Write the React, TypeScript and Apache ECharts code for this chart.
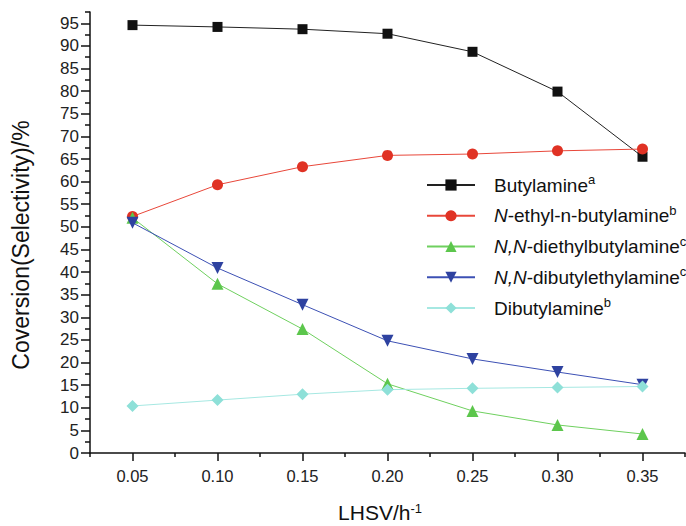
import React, { useEffect, useRef } from "react";
import * as echarts from "echarts";

const lhsv = [0.05, 0.1, 0.15, 0.2, 0.25, 0.3, 0.35];
const butylamine = [94.6, 94.2, 93.7, 92.7, 88.7, 79.9, 65.5];
const ethylButylamine = [52.3, 59.3, 63.3, 65.8, 66.1, 66.8, 67.2];
const diethylButylamine = [52.0, 37.4, 27.4, 15.3, 9.3, 6.2, 4.2];
const dibutylEthylamine = [50.9, 40.9, 32.8, 24.8, 20.8, 17.9, 15.1];
const dibutylamine = [10.4, 11.7, 13.0, 14.0, 14.3, 14.5, 14.7];

const xMajorTicks = [0.05, 0.1, 0.15, 0.2, 0.25, 0.3, 0.35];
const xMinorTicks = [0.025, 0.075, 0.125, 0.175, 0.225, 0.275, 0.325, 0.375];
const yMajorTicks = [0, 5, 10, 15, 20, 25, 30, 35, 40, 45, 50, 55, 60, 65, 70, 75, 80, 85, 90, 95];
const yMinorTicks = [2.5, 7.5, 12.5, 17.5, 22.5, 27.5, 32.5, 37.5, 42.5, 47.5, 52.5, 57.5, 62.5, 67.5, 72.5, 77.5, 82.5, 87.5, 92.5, 97.5];

const seriesNames = [
  "Butylamine",
  "N-ethyl-n-butylamine",
  "N,N-diethylbutylamine",
  "N,N-dibutylethylamine",
  "Dibutylamine",
];
const legendLabels: Record<string, string> = {
  "Butylamine": "{g| }Butylamine{sup|a}",
  "N-ethyl-n-butylamine": "{g| }{it|N}-ethyl-n-butylamine{sup|b}",
  "N,N-diethylbutylamine": "{g| }{it|N,N}-diethylbutylamine{sup|c}",
  "N,N-dibutylethylamine": "{g| }{it|N,N}-dibutylethylamine{sup|c}",
  "Dibutylamine": "{g| }Dibutylamine{sup|b}",
};
const xTitle = "LHSV/h{sup|-1}";
const yTitle = "Coversion(Selectivity)/%";

const FONT = "'Liberation Sans', Arial, Helvetica, sans-serif";

export default function App() {
  const ref = useRef<HTMLDivElement>(null);
  useEffect(() => {
    if (!ref.current) return;
    const chart = echarts.init(ref.current, undefined, { renderer: "svg" });
    const mk = (
      name: string,
      values: number[],
      color: string,
      lineColor: string,
      symbol: string,
      size: number,
      rotate = 0
    ) => ({
      name,
      type: "line",
      xAxisIndex: 0,
      yAxisIndex: 0,
      data: lhsv.map((x, i) => [x, values[i]]),
      symbol,
      symbolSize: size,
      symbolRotate: rotate,
      showSymbol: true,
      itemStyle: { color, borderWidth: 0 },
      lineStyle: { color: lineColor, width: 1 },
      emphasis: { disabled: true },
    });
    const axisCommon = {
      type: "value",
      splitLine: { show: false },
    };
    chart.setOption({
      animation: false,
      textStyle: { fontFamily: FONT },
      grid: { left: 90, right: 1, top: 12, bottom: 73, containLabel: false },
      xAxis: [
        {
          ...axisCommon,
          min: 0.025,
          max: 0.375,
          position: "bottom",
          axisLine: { show: true, lineStyle: { color: "#111", width: 1.5 } },
          axisTick: {
            show: true,
            customValues: xMajorTicks,
            length: 8,
            lineStyle: { color: "#111", width: 1.5 },
          },
          axisLabel: {
            customValues: xMajorTicks,
            formatter: (v: number) => v.toFixed(2),
            fontSize: 16.5,
            color: "#222",
            fontFamily: FONT,
            margin: 14,
          },
        },
        {
          ...axisCommon,
          min: 0.025,
          max: 0.375,
          position: "bottom",
          axisLine: { show: false },
          axisTick: {
            show: true,
            customValues: xMinorTicks,
            length: 4,
            lineStyle: { color: "#111", width: 1.5 },
          },
          axisLabel: { show: false },
        },
      ],
      yAxis: [
        {
          ...axisCommon,
          min: 0,
          max: 97.5,
          position: "left",
          axisLine: { show: true, lineStyle: { color: "#111", width: 1.5 } },
          axisTick: {
            show: true,
            customValues: yMajorTicks,
            length: 9,
            lineStyle: { color: "#111", width: 1.5 },
          },
          axisLabel: {
            customValues: yMajorTicks,
            fontSize: 17,
            color: "#222",
            fontFamily: FONT,
            margin: 11,
          },
        },
        {
          ...axisCommon,
          min: 0,
          max: 97.5,
          position: "left",
          axisLine: { show: false },
          axisTick: {
            show: true,
            customValues: yMinorTicks,
            length: 5,
            lineStyle: { color: "#111", width: 1.5 },
          },
          axisLabel: { show: false },
        },
      ],
      graphic: [
        {
          type: "text",
          x: 21,
          y: 245,
          rotation: Math.PI / 2,
          style: {
            text: yTitle,
            fontSize: 23,
            fontFamily: FONT,
            fill: "#111",
            align: "center",
            verticalAlign: "middle",
          },
        },
        {
          type: "text",
          x: 380,
          y: 512,
          style: {
            text: xTitle,
            fontSize: 21,
            fontFamily: FONT,
            fill: "#111",
            align: "center",
            verticalAlign: "middle",
            rich: {
              sup: { fontSize: 13, verticalAlign: "top", fill: "#111", fontFamily: FONT },
            },
          },
        },
      ],
      legend: {
        orient: "vertical",
        left: 426,
        top: 173,
        padding: 0,
        itemWidth: 48,
        itemHeight: 14,
        itemGap: 6.75,
        data: seriesNames,
        formatter: (name: string) => legendLabels[name] ?? name,
        textStyle: {
          fontSize: 19,
          lineHeight: 24,
          color: "#111",
          fontFamily: FONT,
          rich: {
            g: { width: 14, lineHeight: 24 },
            it: { fontStyle: "italic", fontSize: 19, lineHeight: 24, color: "#111", fontFamily: FONT },
            sup: { fontSize: 13, lineHeight: 13, verticalAlign: "top", color: "#111", fontFamily: FONT },
          },
        },
      },
      series: [
        mk(seriesNames[0], butylamine, "#111111", "#222222", "rect", 10),
        mk(seriesNames[1], ethylButylamine, "#e03224", "#e8473a", "circle", 11),
        mk(seriesNames[2], diethylButylamine, "#5cc64c", "#6fd05f", "triangle", 12),
        mk(seriesNames[3], dibutylEthylamine, "#2e42a0", "#3c50b4", "triangle", 12, 180),
        mk(seriesNames[4], dibutylamine, "#8ee0d8", "#a6e8e2", "diamond", 12),
      ],
    });
    return () => chart.dispose();
  }, []);
  return (
    <div
      ref={ref}
      style={{ position: "fixed", left: 0, top: 0, width: 686, height: 526, background: "#fff" }}
    />
  );
}
